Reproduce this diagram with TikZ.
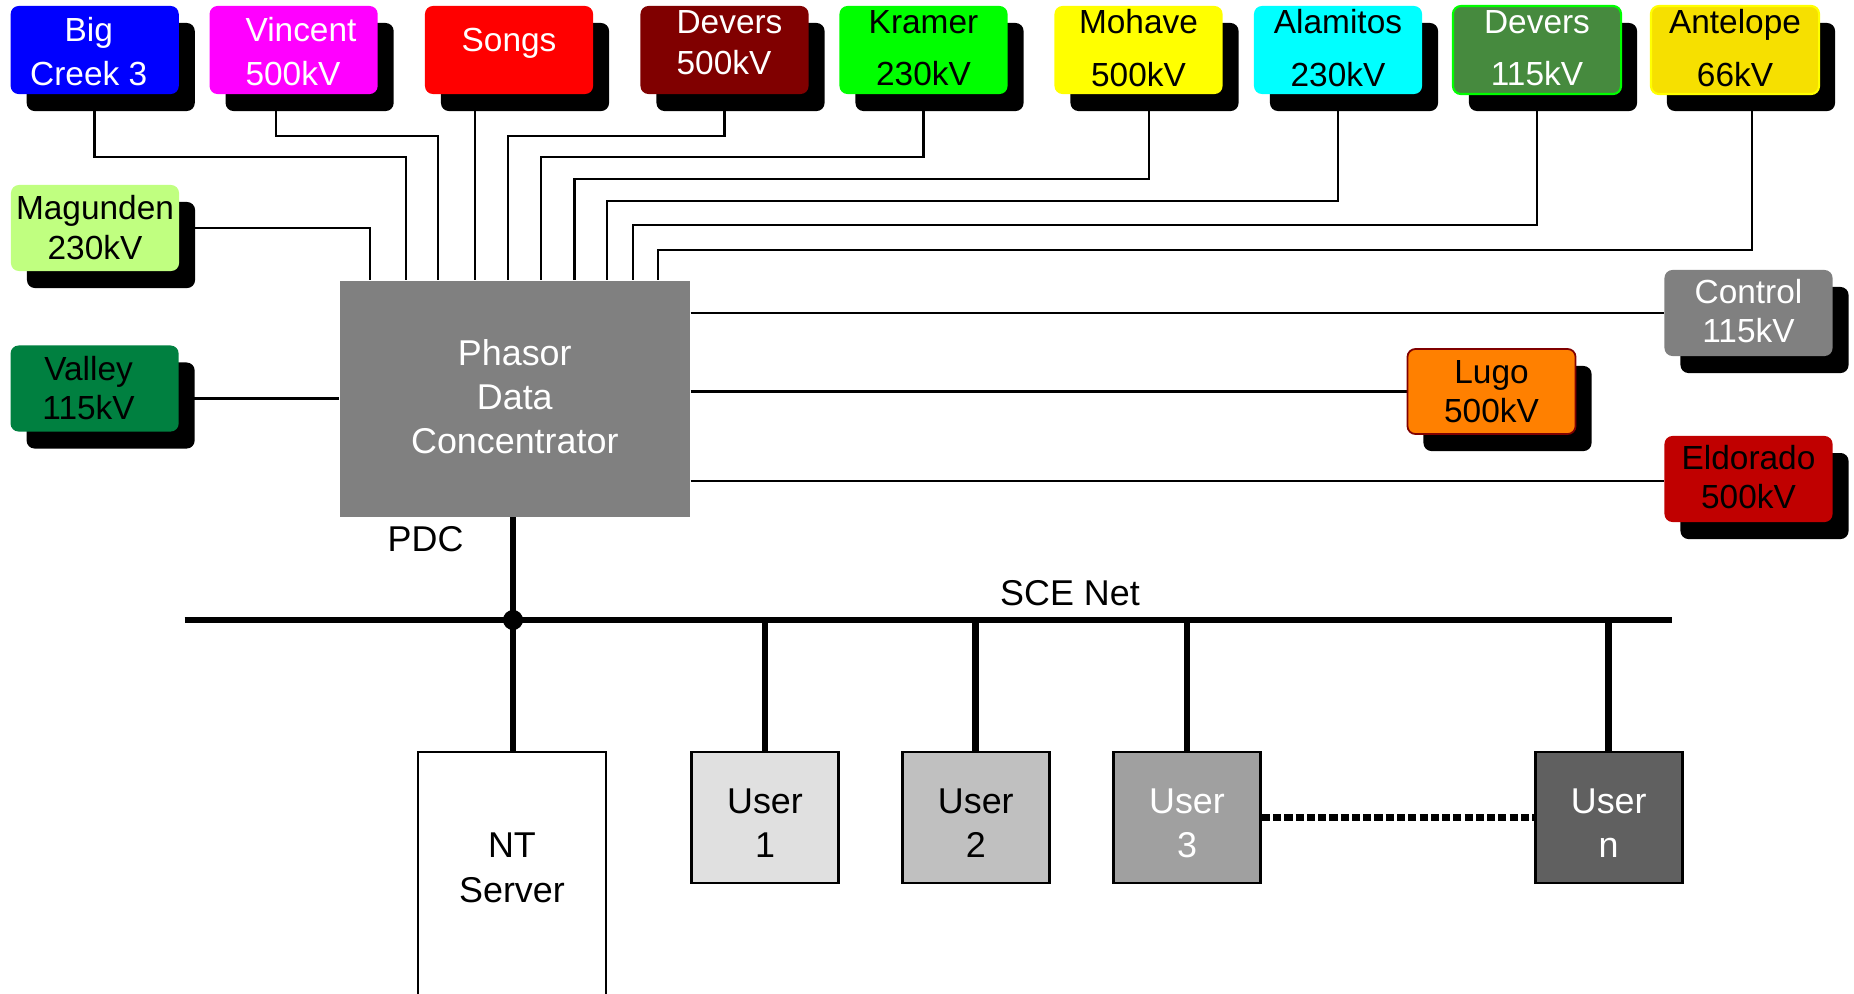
\documentclass[tikz,border=0pt]{standalone}
\usepackage{fontspec}
\setmainfont{Liberation Sans}
\usetikzlibrary{shadows,backgrounds}

\definecolor{cBig}{HTML}{0000FF}
\definecolor{cVin}{HTML}{FF00FF}
\definecolor{cSongs}{HTML}{FF0000}
\definecolor{cDevHi}{HTML}{800000}
\definecolor{cKra}{HTML}{00FF00}
\definecolor{cMoh}{HTML}{FFFF00}
\definecolor{cAla}{HTML}{00FFFF}
\definecolor{cDevLo}{HTML}{468A3E}
\definecolor{cAnt}{HTML}{F6E000}
\definecolor{cMag}{HTML}{C0FF80}
\definecolor{cVal}{HTML}{008040}
\definecolor{cCtl}{HTML}{808080}
\definecolor{cLugo}{HTML}{FF8000}
\definecolor{cEld}{HTML}{C00000}
\definecolor{cPdc}{HTML}{808080}
\definecolor{cUa}{HTML}{E0E0E0}
\definecolor{cUb}{HTML}{C0C0C0}
\definecolor{cUc}{HTML}{A0A0A0}
\definecolor{cUn}{HTML}{606060}

\tikzset{
  station/.style={rounded corners=0.08cm, minimum width=1.68cm, minimum height=0.88cm,
    inner sep=0pt,
    drop shadow={shadow xshift=0.16cm, shadow yshift=-0.17cm, opacity=1, fill=black}},
  txt/.style={inner sep=0pt, align=center},
  wire/.style={line width=0.7pt},
  trunk/.style={line width=1.9pt},
  host/.style={draw, line width=0.8pt, minimum width=1.47cm, minimum height=1.31cm,
    inner sep=0pt},
  lbl/.style={inner sep=0pt},
}
% text set at a given line spacing: general and substation sizes
\newcommand\fs[1]{\fontsize{10.2}{#1}\selectfont}
\newcommand\fss[1]{\fontsize{9.5}{#1}\selectfont}

\begin{document}
\begin{tikzpicture}[x=0.01cm, y=-0.01cm, font=\fs{12.4pt}]
\useasboundingbox (0,0) rectangle (1854,993);

% substations along the top
\node[station, fill=cBig]   (bc)    at (94.7,50)   {};
\node[station, fill=cVin]   (vin)   at (293.6,50)  {};
\node[station, fill=cSongs] (songs) at (509,50)    {};
\node[station, fill=cDevHi] (devhi) at (724.5,50)  {};
\node[station, fill=cKra]   (kra)   at (923.5,50)  {};
\node[station, fill=cMoh]   (moh)   at (1138.5,50) {};
\node[station, fill=cAla]   (ala)   at (1338,50)   {};
\node[station, fill=cDevLo, draw=cKra, line width=0.6pt] (devlo) at (1537,50) {};
\node[station, fill=cAnt, draw=cMoh, line width=0.6pt]   (ant)   at (1735,50) {};

\node[txt, text=white, font=\fss{12.65pt}] (bct)    at ([xshift=-0.06cm,yshift=-0.018cm]bc.center) {Big\\Creek 3};
\node[txt, text=white, font=\fss{12.65pt}, align=left] (vint) at ([xshift=0.074cm,yshift=-0.018cm]vin.center) {Vincent\\500kV};
\node[txt, text=white, font=\fss{12.4pt}]  (songst) at ([yshift=0.07cm]songs.center)  {Songs};
\node[txt, text=white, font=\fss{11.66pt}, align=left] (devhit) at ([xshift=0.05cm,yshift=0.075cm]devhi.center) {Devers\\500kV};
\node[txt, font=\fss{14.9pt}]              (krat)   at ([yshift=0.018cm]kra.center)   {Kramer\\230kV};
\node[txt, font=\fss{14.9pt}]              (moht)   at ([yshift=0.018cm]moh.center)   {Mohave\\500kV};
\node[txt, font=\fss{14.9pt}]              (alat)   at ([yshift=0.018cm]ala.center)   {Alamitos\\230kV};
\node[txt, text=white, font=\fss{14.9pt}]  (devlot) at ([yshift=0.018cm]devlo.center) {Devers\\115kV};
\node[txt, font=\fss{14.9pt}]              (antt)   at ([yshift=0.018cm]ant.center)   {Antelope\\66kV};

% substations on the sides
\node[station, fill=cMag, minimum height=0.86cm] (mag) at (95,228)      {};
\node[station, fill=cVal, minimum height=0.86cm] (val) at (94.6,388.5)  {};
\node[station, fill=cCtl, minimum height=0.86cm] (ctl) at (1748.5,313)  {};
\node[station, fill=cLugo, draw=cDevHi, line width=0.5pt, minimum height=0.85cm] (lugo) at (1491.5,391.5) {};
\node[station, fill=cEld, minimum height=0.86cm] (eld) at (1748.5,479)  {};

\node[txt, font=\fss{11.4pt}]             (magt)  at (mag.center)                   {Magunden\\230kV};
\node[txt, font=\fss{11pt}]               (valt)  at ([xshift=-0.06cm,yshift=0.007cm]val.center) {Valley\\115kV};
\node[txt, text=white, font=\fss{11.1pt}] (ctlt)  at ([yshift=0.02cm]ctl.center)    {Control\\115kV};
\node[txt, font=\fss{11pt}]               (lugot) at (lugo.center)                  {Lugo\\500kV};
\node[txt, font=\fss{11.2pt}]             (eldt)  at ([yshift=0.02cm]eld.center)    {Eldorado\\500kV};

% concentrator
\node[fill=cPdc, minimum width=3.5cm, minimum height=2.36cm] (pdc) at (514.8,398.7) {};
\node[txt, text=white] (pdct) at ([yshift=0.02cm]pdc.center) {Phasor\\Data\\Concentrator};
\node[lbl] (pdclbl) at (425.6,539) {PDC};

% network side
\node[host, minimum width=1.88cm, minimum height=2.44cm, fill=white] (srv) at (512,874) {};
\node[host, fill=cUa] (u1) at (765,817.5)    {};
\node[host, fill=cUb] (u2) at (975.8,817.5)  {};
\node[host, fill=cUc] (u3) at (1187,817.5)   {};
\node[host, fill=cUn] (un) at (1608.7,817.5) {};
\node[txt, font=\fs{12.9pt}] (srvt) at ([yshift=0.06cm]srv.center) {NT\\Server};
\node[txt, font=\fs{12.5pt}] (u1t) at ([yshift=-0.06cm]u1.center) {User\\1};
\node[txt, font=\fs{12.5pt}] (u2t) at ([yshift=-0.06cm]u2.center) {User\\2};
\node[txt, font=\fs{12.5pt}, text=white] (u3t) at ([yshift=-0.06cm]u3.center) {User\\3};
\node[txt, font=\fs{12.5pt}, text=white] (unt) at ([yshift=-0.06cm]un.center) {User\\n};
\node[lbl] (net) at (1070,593) {SCE Net};

\coordinate (busL) at (184.5,620);
\coordinate (busR) at (1672,620);
\coordinate (jn) at (513,620);

\begin{pgfonlayer}{background}
  % links into the top of the concentrator
  \draw[wire] (bc.south) |- (406,157) -- (pdc.north -| 406,0);
  \draw[wire] (276,0 |- vin.south) |- (438,136) -- (pdc.north -| 438,0);
  \draw[wire] (475,0 |- songs.south) -- (pdc.north -| 475,0);
  \draw[wire] (devhi.south) |- (508,136) -- (pdc.north -| 508,0);
  \draw[wire] (kra.south) |- (541,157) -- (pdc.north -| 541,0);
  \draw[wire] (1149,0 |- moh.south) |- (574.5,179) -- (pdc.north -| 574.5,0);
  \draw[wire] (ala.south) |- (607,201) -- (pdc.north -| 607,0);
  \draw[wire] (devlo.south) |- (633,225) -- (pdc.north -| 633,0);
  \draw[wire] (1752,0 |- ant.south) |- (658,250) -- (pdc.north -| 658,0);
  \draw[wire] (mag.east) -| (pdc.north -| 370,0);
  % side links
  \draw[wire] (pdc.west -| val.east) -- (pdc.west);
  \draw[wire] (pdc.east |- ctl.west) -- (ctl.west);
  \draw[wire] (pdc.east |- lugo.west) -- (lugo.west);
  \draw[wire] (pdc.east |- 0,481) -- (eld.west |- 0,481);
\end{pgfonlayer}

% SCE network bus and drops
\draw[trunk] (busL) -- (busR);
\draw[trunk] (pdc.south -| jn) -- (srv.north -| jn);
\fill (jn) circle (0.1cm);
\draw[trunk] (u1.north |- busL) -- (u1.north);
\draw[trunk] (u2.north |- busL) -- (u2.north);
\draw[trunk] (u3.north |- busL) -- (u3.north);
\draw[trunk] (un.north |- busL) -- (un.north);
\draw[trunk, dash pattern=on 2.3pt off 0.9pt] (u3.east) -- (un.west);
\end{tikzpicture}
\end{document}
